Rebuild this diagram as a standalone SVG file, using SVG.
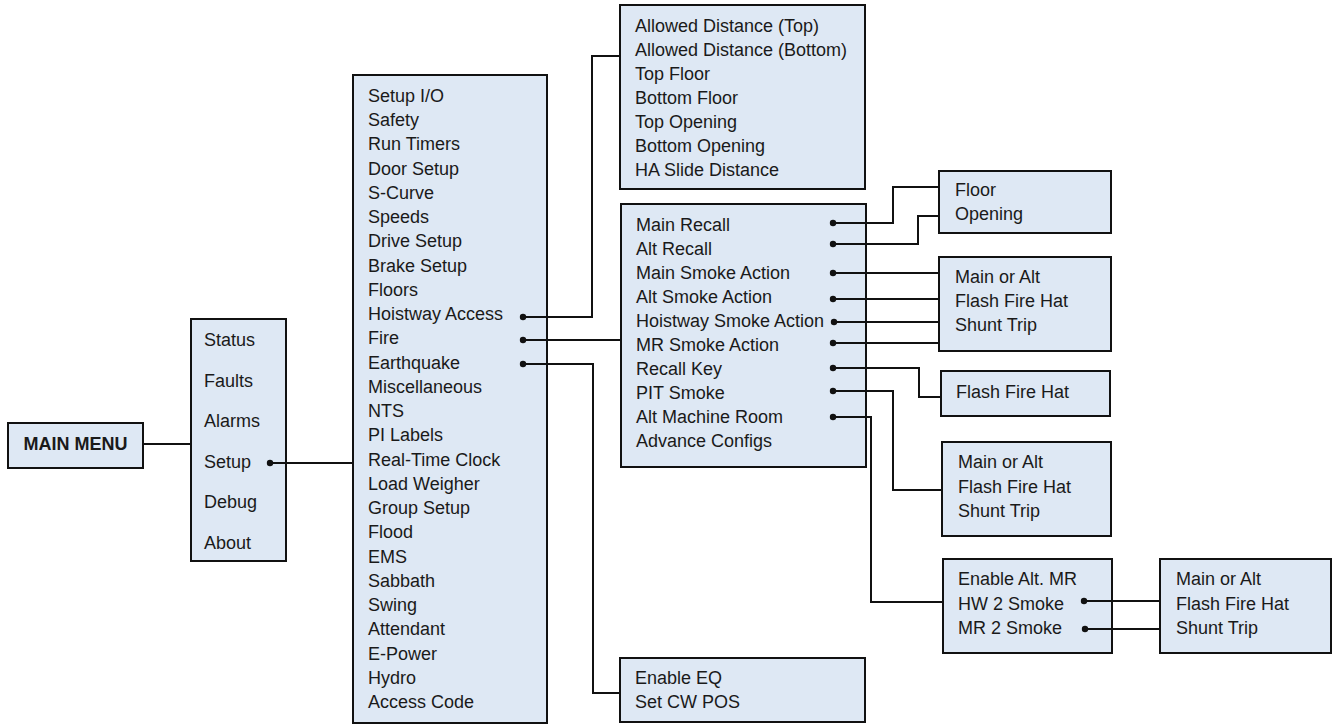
<svg xmlns="http://www.w3.org/2000/svg" width="1333" height="725" viewBox="0 0 1333 725">
<style>
.box{fill:#dee8f4;stroke:#111;stroke-width:2}
.t{font-family:"Liberation Sans",Arial,sans-serif;font-size:18px;fill:#1a1a1a}
.b{font-weight:bold}
.c{fill:none;stroke:#111;stroke-width:2}
.d{fill:#111}
</style>
<rect width="1333" height="725" fill="#fff"/>
<g id="main-menu">
<rect class="box" x="8" y="423" width="135" height="45"/>
<text class="t b" x="75.5" y="450" text-anchor="middle">MAIN MENU</text>
</g>
<g id="menu">
<rect class="box" x="191" y="319" width="95" height="242"/>
<text class="t" x="204" y="346">Status</text>
<text class="t" x="204" y="387">Faults</text>
<text class="t" x="204" y="427">Alarms</text>
<text class="t" x="204" y="468">Setup</text>
<text class="t" x="204" y="508">Debug</text>
<text class="t" x="204" y="549">About</text>
</g>
<g id="setup">
<rect class="box" x="353" y="75" width="194" height="648"/>
<text class="t" x="368" y="101.7">Setup I/O</text>
<text class="t" x="368" y="126">Safety</text>
<text class="t" x="368" y="150.2">Run Timers</text>
<text class="t" x="368" y="174.5">Door Setup</text>
<text class="t" x="368" y="198.7">S-Curve</text>
<text class="t" x="368" y="223">Speeds</text>
<text class="t" x="368" y="247.3">Drive Setup</text>
<text class="t" x="368" y="271.5">Brake Setup</text>
<text class="t" x="368" y="295.8">Floors</text>
<text class="t" x="368" y="320">Hoistway Access</text>
<text class="t" x="368" y="344.3">Fire</text>
<text class="t" x="368" y="368.6">Earthquake</text>
<text class="t" x="368" y="392.8">Miscellaneous</text>
<text class="t" x="368" y="417">NTS</text>
<text class="t" x="368" y="441.3">PI Labels</text>
<text class="t" x="368" y="465.6">Real-Time Clock</text>
<text class="t" x="368" y="489.9">Load Weigher</text>
<text class="t" x="368" y="514.1">Group Setup</text>
<text class="t" x="368" y="538.4">Flood</text>
<text class="t" x="368" y="562.6">EMS</text>
<text class="t" x="368" y="586.9">Sabbath</text>
<text class="t" x="368" y="611.2">Swing</text>
<text class="t" x="368" y="635.4">Attendant</text>
<text class="t" x="368" y="659.7">E-Power</text>
<text class="t" x="368" y="683.9">Hydro</text>
<text class="t" x="368" y="708.2">Access Code</text>
</g>
<g id="hoistway-access">
<rect class="box" x="620" y="5" width="245" height="184"/>
<text class="t" x="635" y="32">Allowed Distance (Top)</text>
<text class="t" x="635" y="56">Allowed Distance (Bottom)</text>
<text class="t" x="635" y="80">Top Floor</text>
<text class="t" x="635" y="104">Bottom Floor</text>
<text class="t" x="635" y="128">Top Opening</text>
<text class="t" x="635" y="152">Bottom Opening</text>
<text class="t" x="635" y="176">HA Slide Distance</text>
</g>
<g id="fire">
<rect class="box" x="621" y="204" width="245" height="263"/>
<text class="t" x="636" y="231">Main Recall</text>
<text class="t" x="636" y="255">Alt Recall</text>
<text class="t" x="636" y="279">Main Smoke Action</text>
<text class="t" x="636" y="303">Alt Smoke Action</text>
<text class="t" x="636" y="327">Hoistway Smoke Action</text>
<text class="t" x="636" y="351">MR Smoke Action</text>
<text class="t" x="636" y="375">Recall Key</text>
<text class="t" x="636" y="399">PIT Smoke</text>
<text class="t" x="636" y="423">Alt Machine Room</text>
<text class="t" x="636" y="447">Advance Configs</text>
</g>
<g id="recall-options">
<rect class="box" x="939" y="171" width="172" height="62"/>
<text class="t" x="955" y="196">Floor</text>
<text class="t" x="955" y="220">Opening</text>
</g>
<g id="smoke-options">
<rect class="box" x="939" y="257" width="172" height="94"/>
<text class="t" x="955" y="283">Main or Alt</text>
<text class="t" x="955" y="307">Flash Fire Hat</text>
<text class="t" x="955" y="331">Shunt Trip</text>
</g>
<g id="recall-key-options">
<rect class="box" x="941" y="371" width="169" height="45"/>
<text class="t" x="956" y="398">Flash Fire Hat</text>
</g>
<g id="pit-smoke-options">
<rect class="box" x="942" y="442" width="169" height="94"/>
<text class="t" x="958" y="468">Main or Alt</text>
<text class="t" x="958" y="493">Flash Fire Hat</text>
<text class="t" x="958" y="517">Shunt Trip</text>
</g>
<g id="alt-mr">
<rect class="box" x="943" y="559" width="169" height="94"/>
<text class="t" x="958" y="585">Enable Alt. MR</text>
<text class="t" x="958" y="610">HW 2 Smoke</text>
<text class="t" x="958" y="634">MR 2 Smoke</text>
</g>
<g id="alt-mr-smoke-options">
<rect class="box" x="1160" y="559" width="171" height="94"/>
<text class="t" x="1176" y="585">Main or Alt</text>
<text class="t" x="1176" y="610">Flash Fire Hat</text>
<text class="t" x="1176" y="634">Shunt Trip</text>
</g>
<g id="earthquake">
<rect class="box" x="620" y="658" width="245" height="64"/>
<text class="t" x="635" y="684">Enable EQ</text>
<text class="t" x="635" y="708">Set CW POS</text>
</g>
<g id="connectors">
<path class="c" d="M143,444H191"/>
<path class="c" d="M270,463H353"/>
<path class="c" d="M523,317H592V56H620"/>
<path class="c" d="M523,340H621"/>
<path class="c" d="M523,364H593V693H620"/>
<path class="c" d="M833,223H893V187H939"/>
<path class="c" d="M833,244H918V216H939"/>
<path class="c" d="M833,273H939"/>
<path class="c" d="M833,299H939"/>
<path class="c" d="M834,322H939"/>
<path class="c" d="M833,343H939"/>
<path class="c" d="M833,368H919V397H941"/>
<path class="c" d="M833,391H893V490H942"/>
<path class="c" d="M833,417H871V602H943"/>
<path class="c" d="M1084,601H1160"/>
<path class="c" d="M1085,629H1160"/>
<circle class="d" cx="270" cy="463" r="3.2"/>
<circle class="d" cx="523" cy="317" r="3.2"/>
<circle class="d" cx="523" cy="340" r="3.2"/>
<circle class="d" cx="523" cy="364" r="3.2"/>
<circle class="d" cx="833" cy="223" r="3.2"/>
<circle class="d" cx="833" cy="244" r="3.2"/>
<circle class="d" cx="833" cy="273" r="3.2"/>
<circle class="d" cx="833" cy="299" r="3.2"/>
<circle class="d" cx="834" cy="322" r="3.2"/>
<circle class="d" cx="833" cy="343" r="3.2"/>
<circle class="d" cx="833" cy="368" r="3.2"/>
<circle class="d" cx="833" cy="391" r="3.2"/>
<circle class="d" cx="833" cy="417" r="3.2"/>
<circle class="d" cx="1084" cy="601" r="3.2"/>
<circle class="d" cx="1085" cy="629" r="3.2"/>
</g>
</svg>
